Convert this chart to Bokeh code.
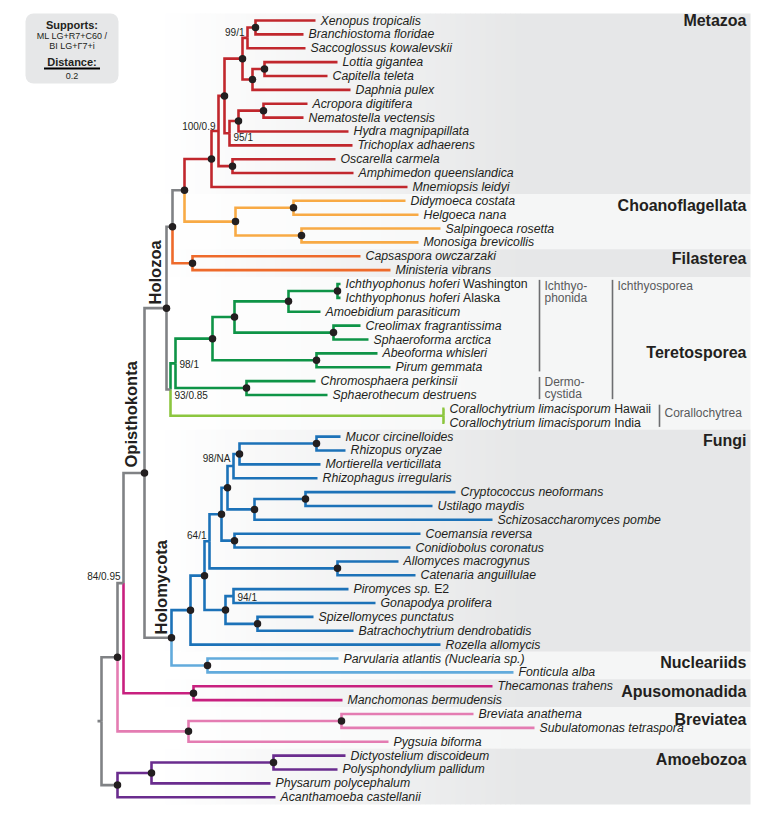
import math
from bokeh.plotting import figure
from bokeh.models import Range1d, ColumnDataSource, BoxAnnotation
from bokeh.core.properties import value
from bokeh.embed import file_html
from bokeh.resources import INLINE

FONT = "Liberation Sans"
INK = "#231f20"

# ------------------------------------------------------------------ data
ROW0 = 20.0          # y of first leaf row (px)
ROW_STEP = 13.87     # row spacing (px)
PX_PER_UNIT = 280.0  # branch-length scale (px per substitution/site)
SCALE_BAR = 0.2

leaf_italic = [
    "Xenopus tropicalis", "Branchiostoma floridae", "Saccoglossus kowalevskii",
    "Lottia gigantea", "Capitella teleta", "Daphnia pulex",
    "Acropora digitifera", "Nematostella vectensis", "Hydra magnipapillata",
    "Trichoplax adhaerens", "Oscarella carmela", "Amphimedon queenslandica",
    "Mnemiopsis leidyi",
    "Didymoeca costata", "Helgoeca nana", "Salpingoeca rosetta", "Monosiga brevicollis",
    "Capsaspora owczarzaki", "Ministeria vibrans",
    "Ichthyophonus hoferi", "Ichthyophonus hoferi", "Amoebidium parasiticum",
    "Creolimax fragrantissima", "Sphaeroforma arctica", "Abeoforma whisleri",
    "Pirum gemmata", "Chromosphaera perkinsii", "Sphaerothecum destruens",
    "Corallochytrium limacisporum", "Corallochytrium limacisporum",
    "Mucor circinelloides", "Rhizopus oryzae", "Mortierella verticillata",
    "Rhizophagus irregularis", "Cryptococcus neoformans", "Ustilago maydis",
    "Schizosaccharomyces pombe", "Coemansia reversa", "Conidiobolus coronatus",
    "Allomyces macrogynus", "Catenaria anguillulae", "Piromyces sp.",
    "Gonapodya prolifera", "Spizellomyces punctatus", "Batrachochytrium dendrobatidis",
    "Rozella allomycis",
    "Parvularia atlantis (Nuclearia sp.)", "Fonticula alba",
    "Thecamonas trahens", "Manchomonas bermudensis",
    "Breviata anathema", "Subulatomonas tetraspora", "Pygsuia biforma",
    "Dictyostelium discoideum", "Polysphondylium pallidum",
    "Physarum polycephalum", "Acanthamoeba castellanii",
]
# upright (non-italic) suffix after the italic name
leaf_roman_index = [19, 20, 28, 29, 41]
leaf_roman_text = ["Washington", "Alaska", "Hawaii", "India", "E2"]

# x position (px) of each leaf tip
leaf_tip = [315, 303, 305, 337, 327, 350, 307, 303, 348, 352, 335, 353, 407,
            405, 418, 440, 418, 360, 390,
            340, 340, 320, 360, 368, 377, 390, 315, 327, 444, 444,
            340, 345, 320, 317, 455, 432, 492, 420, 410, 398, 415, 348, 375, 313, 353, 440,
            338, 513, 492, 342, 473, 534, 388, 345, 337, 270, 275]

# branch colour groups (consecutive leaves)
color_groups = ["Metazoa", "Choanoflagellata", "Filasterea", "Ichthyosporea",
                "Corallochytrea", "Fungi", "Nucleariids", "Apusomonadida",
                "Breviatea", "Amoebozoa"]
color_group_sizes = [13, 4, 2, 9, 2, 16, 2, 2, 3, 4]
group_color = {
    "Metazoa": "#c1272d", "Choanoflagellata": "#f8aa45", "Filasterea": "#ee6a2b",
    "Ichthyosporea": "#0e9447", "Corallochytrea": "#8cc63f", "Fungi": "#1c72b8",
    "Nucleariids": "#62abdc", "Apusomonadida": "#c8207f", "Breviatea": "#e47cb2",
    "Amoebozoa": "#6a2c8e", "Backbone": "#808285",
}

# background bands / clade labels
band_names = ["Metazoa", "Choanoflagellata", "Filasterea", "Teretosporea", "Fungi",
              "Nucleariids", "Apusomonadida", "Breviatea", "Amoebozoa"]
band_sizes = [13, 4, 2, 11, 16, 2, 2, 3, 4]
band_dark = [True, False, True, False, True, False, True, False, True]
band_label_row = [0.0, 13.34, 17.15, 23.94, 30.3, 46.3, 48.4, 50.4, 53.3]

# internal nodes: id, children (int = leaf index), x (px), colour group, dot, support
node_id = []
node_children = []
node_x = []
node_group = []
node_dot = []
node_support = []
node_label_side = []   # 'L' or 'R'
node_label_dy = []

def N(i, ch, x, g, dot=True, sup=None, side=None, dy=0.0):
    node_id.append(i); node_children.append(ch); node_x.append(x)
    node_group.append(g); node_dot.append(dot); node_support.append(sup)
    node_label_side.append(side); node_label_dy.append(dy)

M, C, F, I, CO, FU, NU, A, B, AM, G = ("Metazoa", "Choanoflagellata", "Filasterea",
    "Ichthyosporea", "Corallochytrea", "Fungi", "Nucleariids", "Apusomonadida",
    "Breviatea", "Amoebozoa", "Backbone")

N("xb", [0, 1], 255, M)
N("deu", ["xb", 2], 247, M, False, "99/1", "L", -5.5)
N("lc", [3, 4], 264, M)
N("pro", ["lc", 5], 252, M)
N("bil", ["deu", "pro"], 242, M)
N("an", [6, 7], 263, M)
N("cni", ["an", 8], 238, M)
N("ct", ["cni", 9], 229, M, False, "95/1", "R", 4.5)
N("pb", ["bil", "ct"], 224, M)
N("sp", [10, 11], 232, M)
N("ps", ["pb", "sp"], 218, M, False, "100/0.9", "L", -4.5)
N("met", ["ps", 12], 211, M)
N("dh", [13, 14], 293, C)
N("sm", [15, 16], 301, C)
N("cho", ["dh", "sm"], 235, C)
N("chz", ["met", "cho"], 184, G)
N("fil", [17, 18], 192, F)
N("cf", ["chz", "fil"], 172, G)
N("ich", [19, 20], 337, I)
N("ia", ["ich", 21], 288, I)
N("cs", [22, 23], 333, I)
N("iac", ["ia", "cs"], 234, I)
N("ap", [24, 25], 316, I)
N("iph", ["iac", "ap"], 212, I)
N("der", [26, 27], 246, I)
N("isp", ["iph", "der"], 175, I, False, "98/1", "R", 1.0)
N("cor", [28, 29], 443, CO, False)
N("ter", ["isp", "cor"], 170, G, False, "93/0.85", "R", 6.0)
N("hoz", ["cf", "ter"], 166, G)
N("mr", [30, 31], 316, FU)
N("mm", ["mr", 32], 239, FU)
N("muc", ["mm", 33], 233, FU, False, "98/NA", "L", -7.5)
N("bas", [34, 35], 305, FU)
N("dik", ["bas", 36], 254, FU)
N("md", ["muc", "dik"], 227, FU)
N("zoo", [37, 38], 234, FU)
N("mdz", ["md", "zoo"], 221, FU)
N("blc", [39, 40], 337, FU)
N("f64", ["mdz", "blc"], 209, FU, False, "64/1", "L", -6.0)
N("pg", [41, 42], 233, FU, False, "94/1", "R", 1.0)
N("sb", [43, 44], 257, FU)
N("chy", ["pg", "sb"], 225, FU)
N("f1", ["f64", "chy"], 204, FU)
N("fun", ["f1", 45], 190, FU)
N("nuc", [46, 47], 207, NU)
N("hmy", ["fun", "nuc"], 171, G)
N("opi", ["hoz", "hmy"], 144, G)
N("apu", [48, 49], 193, A)
N("oa", ["opi", "apu"], 123, G, False, "84/0.95", "L", -7.0)
N("bb", [50, 51], 341, B)
N("brv", ["bb", 52], 188, B)
N("ob", ["oa", "brv"], 117, G)
N("dp", [53, 54], 273, AM)
N("dpp", ["dp", 55], 151, AM)
N("amo", ["dpp", 56], 117, G)
N("root", ["ob", "amo"], 101, G, False)

# group labels (brackets) for Teretosporea sub-clades: text lines, x(px), first/last row
bracket_x = [539, 539, 612, 659]
bracket_rows = [(19, 25), (26, 27), (19, 27), (28, 29)]
bracket_text = [["Ichthyo-", "phonida"], ["Dermo-", "cystida"], ["Ichthyosporea"], ["Corallochytrea"]]
bracket_text_row = [19.17, 26.05, 19.17, 28.3]

# large rotated labels: text, baseline x, start y
big_labels = ["Holozoa", "Opisthokonta", "Holomycota"]
big_label_x = [154, 130, 160]
big_label_y = [304, 467, 634]

# ------------------------------------------------------------------ helpers
AW = {' ': 278, '(': 333, ')': 333, '.': 278, '/': 278, '-': 333,
      'A': 667, 'B': 667, 'C': 722, 'D': 722, 'E': 667, 'F': 611, 'G': 778, 'H': 722,
      'I': 278, 'N': 722, 'P': 667, 'S': 667, 'W': 944,
      'a': 556, 'b': 556, 'c': 500, 'd': 556, 'e': 556, 'f': 278, 'g': 556, 'h': 556,
      'i': 222, 'j': 222, 'k': 500, 'l': 222, 'm': 833, 'n': 556, 'o': 556, 'p': 556,
      'q': 556, 'r': 333, 's': 500, 't': 278, 'u': 556, 'v': 500, 'w': 722, 'x': 500,
      'y': 500, 'z': 500}

def text_w(s, size):
    return sum(AW.get(ch, 556) for ch in s) * size / 1000.0

def row_y(r):
    return ROW0 + ROW_STEP * r

n_leaves = len(leaf_italic)
leaf_color = []
for g, n in zip(color_groups, color_group_sizes):
    leaf_color += [group_color[g]] * n

pos = {}
for i in range(n_leaves):
    pos[i] = (leaf_tip[i], row_y(i))
idx = {nid: k for k, nid in enumerate(node_id)}

def get_pos(key):
    if key in pos:
        return pos[key]
    k = idx[key]
    ys = [get_pos(c)[1] for c in node_children[k]]
    pos[key] = (node_x[k], (ys[0] + ys[-1]) / 2.0)
    return pos[key]

for nid in node_id:
    get_pos(nid)

# ------------------------------------------------------------------ figure
W, H = 756, 807
p = figure(width=W, height=H, output_backend="svg", toolbar_location=None,
           x_range=Range1d(0, W), y_range=Range1d(H, 0),
           min_border=0, outline_line_color=None, background_fill_color="white")
p.axis.visible = False
p.grid.visible = False

# background bands with a left-to-right gradient
BAND_RIGHT = 750
GX0, GX1, GSTEP = 160, 520, 5
band_src = dict(left=[], right=[], top=[], bottom=[], color=[])
dark_rgb = (230, 231, 232)
light_rgb = (245, 246, 246)
r0 = 0
for name, n, dark in zip(band_names, band_sizes, band_dark):
    top = row_y(r0) - ROW_STEP / 2
    bot = row_y(r0 + n - 1) + ROW_STEP / 2
    tgt = dark_rgb if dark else light_rgb
    x = GX0
    while x < GX1:
        t = (x - GX0 + GSTEP / 2) / (GX1 - GX0)
        c = tuple(int(round(255 + (tc - 255) * t)) for tc in tgt)
        band_src["left"].append(x); band_src["right"].append(x + GSTEP + 0.6)
        band_src["top"].append(top); band_src["bottom"].append(bot + 0.3)
        band_src["color"].append("#%02x%02x%02x" % c)
        x += GSTEP
    band_src["left"].append(GX1); band_src["right"].append(BAND_RIGHT)
    band_src["top"].append(top); band_src["bottom"].append(bot + 0.3)
    band_src["color"].append("#%02x%02x%02x" % tgt)
    r0 += n
p.quad(left="left", right="right", top="top", bottom="bottom", fill_color="color",
       line_color=None, source=ColumnDataSource(band_src))

# clade labels
cl_x, cl_y = [], []
for n, lr in zip(band_sizes, band_label_row):
    cl_x.append(746); cl_y.append(row_y(lr))
p.text(x=cl_x, y=cl_y, text=band_names, text_font=value(FONT), text_font_style="bold",
       text_font_size="16px", text_align="right", text_baseline="middle", text_color=INK)

# legend box
p.add_layout(BoxAnnotation(left=25, right=118, top=13, bottom=83, fill_color="#e6e7e8",
                           fill_alpha=1.0, line_color=None, border_radius=8,
                           level="underlay"))
LX = 71.5
p.text(x=[LX, LX], y=[24, 61], text=["Supports:", "Distance:"], text_font=value(FONT),
       text_font_style="bold", text_font_size="11px", text_align="center",
       text_baseline="middle", text_color=INK)
p.text(x=[LX, LX, LX], y=[35.5, 45, 75.5], text=["ML LG+R7+C60 /", "BI LG+\u03937+i", "%.1f" % SCALE_BAR],
       text_font=value(FONT), text_font_size="9px", text_align="center",
       text_baseline="middle", text_color=INK)
half = SCALE_BAR * PX_PER_UNIT / 2
p.segment(x0=[LX - half], x1=[LX + half], y0=[68], y1=[68], line_color="black", line_width=2)

# branches
xs, ys, cols = [], [], []
parent = {}
for k, nid in enumerate(node_id):
    for c in node_children[k]:
        parent[c] = nid
for key, (x, y) in pos.items():
    if key not in parent:
        continue
    px, py = pos[parent[key]]
    xs.append([px, px, x]); ys.append([py, y, y])
    if isinstance(key, int):
        cols.append(leaf_color[key])
    else:
        cols.append(group_color[node_group[idx[key]]])
rx, ry = pos["root"]
xs.append([rx - 4, rx]); ys.append([ry, ry]); cols.append(group_color["Backbone"])
p.multi_line(xs=xs, ys=ys, line_color=cols, line_width=2.6, line_join="miter")

# node dots
dx_ = [pos[n][0] for k, n in enumerate(node_id) if node_dot[k]]
dy_ = [pos[n][1] for k, n in enumerate(node_id) if node_dot[k]]
p.scatter(x=dx_, y=dy_, size=7.5, fill_color=INK, line_color=None)

# support values
for side in ("L", "R"):
    sx, sy, st = [], [], []
    for k, n in enumerate(node_id):
        if node_support[k] and node_label_side[k] == side:
            x, y = pos[n]
            sx.append(x - 3 if side == "L" else x + 4)
            sy.append(y + node_label_dy[k]); st.append(node_support[k])
    p.text(x=sx, y=sy, text=st, text_font=value(FONT), text_font_size="10px",
           text_align="right" if side == "L" else "left", text_baseline="middle",
           text_color=INK)

# leaf labels
LSIZE = 12.3
lab_x = [leaf_tip[i] + 5 for i in range(n_leaves)]
lab_y = [row_y(i) for i in range(n_leaves)]
p.text(x=lab_x, y=lab_y, text=leaf_italic, text_font=value(FONT), text_font_style="italic",
       text_font_size="%.1fpx" % LSIZE, text_baseline="middle", text_color=INK)
rom_x = [lab_x[i] + text_w(leaf_italic[i] + " ", LSIZE) for i in leaf_roman_index]
rom_y = [row_y(i) for i in leaf_roman_index]
p.text(x=rom_x, y=rom_y, text=leaf_roman_text, text_font=value(FONT),
       text_font_size="%.1fpx" % LSIZE, text_baseline="middle", text_color=INK)

# brackets
BR_COL = "#6d6e71"
bx0, by0, by1 = [], [], []
tx, ty, tt = [], [], []
for bx, (ra, rb), lines, tr in zip(bracket_x, bracket_rows, bracket_text, bracket_text_row):
    bx0.append(bx); by0.append(row_y(ra) - 0.3 * ROW_STEP); by1.append(row_y(rb) + 0.3 * ROW_STEP)
    for j, line in enumerate(lines):
        tx.append(bx + 5); ty.append(row_y(tr) + j * 11.8); tt.append(line)
p.segment(x0=bx0, x1=bx0, y0=by0, y1=by1, line_color=BR_COL, line_width=1.6)
p.text(x=tx, y=ty, text=tt, text_font=value(FONT), text_font_size="12px",
       text_baseline="middle", text_color="#58595b")

# rotated clade labels
p.text(x=big_label_x, y=big_label_y, text=big_labels, angle=math.pi / 2,
       text_font=value(FONT), text_font_style="bold", text_font_size="16.5px",
       text_align="left", text_baseline="alphabetic", text_color=INK)

open("out.html", "w").write(file_html(p, INLINE))
